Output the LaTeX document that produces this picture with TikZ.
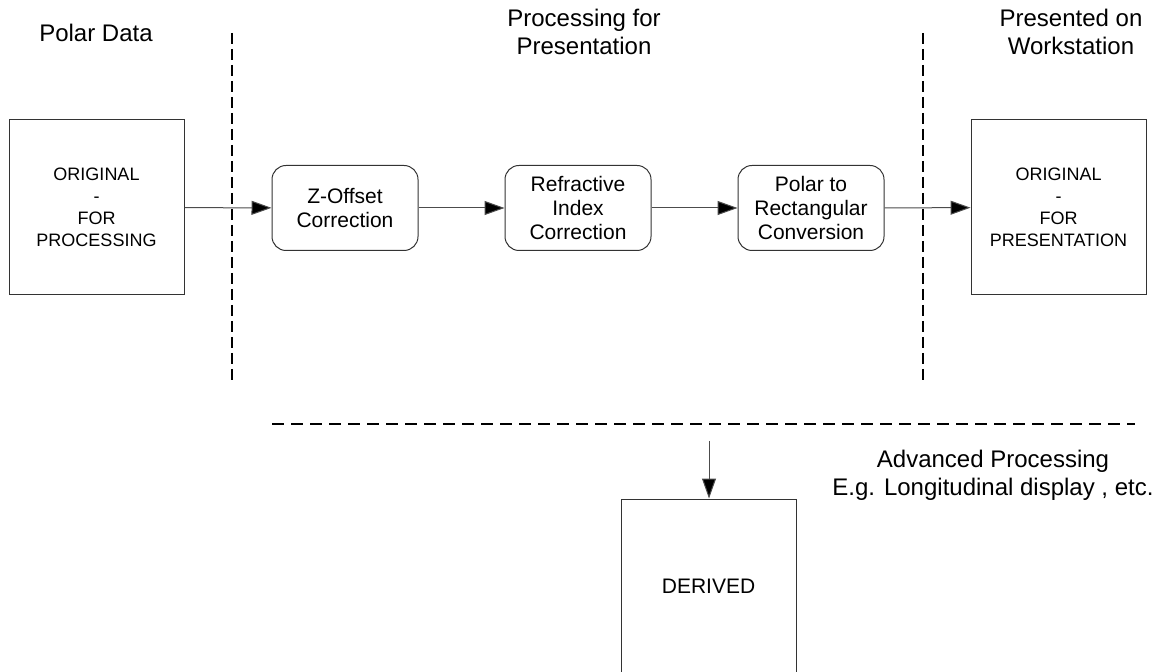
\documentclass[tikz,border=0pt]{standalone}
\usepackage{fontspec}
\setmainfont{Liberation Sans}
\usetikzlibrary{arrows.meta}

\begin{document}
\begin{tikzpicture}[x=.5pt,y=-.5pt,>={Triangle[length=10pt,width=7pt,fill=black]},
 databox/.style={draw=black!80,line width=.5pt,minimum width=87.5pt,minimum height=87.5pt,
   inner sep=0pt,align=center,font=\fontsize{9}{11}\selectfont},
 stepbox/.style={draw=black!80,line width=.5pt,rounded corners=7pt,minimum width=73pt,
   minimum height=42.5pt,inner sep=0pt,align=center,font=\fontsize{10.5}{12.2}\selectfont},
 heading/.style={align=center,font=\fontsize{12}{14}\selectfont},
 divider/.style={line width=1.2pt,dash pattern=on 5.5pt off 2.5pt},
 flow/.style={->,draw=black!70,line width=.5pt}]
 \useasboundingbox (0,0) rectangle (1159,672);
 \clip (0,0) rectangle (1159,672);
 % column headings
 \node[heading] (polar) at (96,33) {Polar Data};
 \node[heading] (proc) at (584,32) {Processing for\\Presentation};
 \node[heading] (pres) at (1071,32) {Presented on\\Workstation};
 \node[heading] (adv) at (993,475) {Advanced Processing\\E.g. Longitudinal display , etc.};
 % separators
 \foreach \x in {232,923}{
  \draw[divider] (\x,33) -- (\x,380);
 }
 \draw[divider,dash pattern=on 6pt off 3.5pt] (272,424) -- (1135,424);
 % boxes
 \node[databox] (orig) at (96.5,207.5) {ORIGINAL\\-\\FOR\\PROCESSING};
 \node[stepbox] (zoff) at (345,208) {Z-Offset\\Correction};
 \node[stepbox] (refr) at (578,208) {Refractive\\Index\\Correction};
 \node[stepbox] (conv) at (811,208) {Polar to\\Rectangular\\Conversion};
 \node[databox] (final) at (1058.5,207.5) {ORIGINAL\\-\\FOR\\PRESENTATION};
 \node[databox,font=\fontsize{10.5}{12.2}\selectfont] (derived) at (708.5,586.5) {DERIVED};
 % flow
 \draw[flow] (orig) -- (zoff);
 \draw[flow] (zoff) -- (refr);
 \draw[flow] (refr) -- (conv);
 \draw[flow] (conv) -- (final);
 \coordinate (advin) at (709,441);
 \draw[flow] (advin) -- (advin |- derived.north);
\end{tikzpicture}
\end{document}
